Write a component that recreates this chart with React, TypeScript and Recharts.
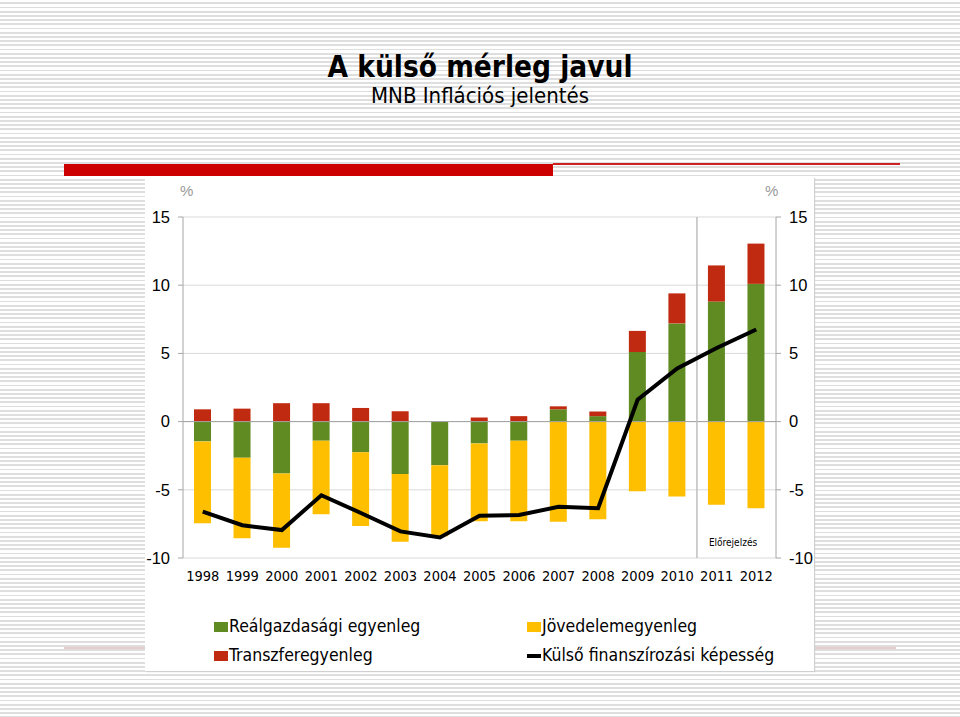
import React from "react";
import {
  ComposedChart,
  Bar,
  Line,
  XAxis,
  YAxis,
  CartesianGrid,
  ReferenceLine,
} from "recharts";

const years = ["1998", "1999", "2000", "2001", "2002", "2003", "2004", "2005", "2006", "2007", "2008", "2009", "2010", "2011", "2012"];
const realBalance = [-1.45, -2.65, -3.8, -1.4, -2.25, -3.85, -3.2, -1.6, -1.4, 0.9, 0.4, 5.1, 7.2, 8.8, 10.1];
const incomeBalance = [-6.0, -5.9, -5.45, -5.4, -5.4, -4.95, -5.2, -5.7, -5.9, -7.35, -7.15, -5.1, -5.5, -6.1, -6.35];
const transferBalance = [0.9, 0.95, 1.35, 1.35, 1.0, 0.75, 0.0, 0.3, 0.4, 0.22, 0.34, 1.55, 2.2, 2.65, 2.95];
const financing = [-6.6, -7.6, -7.95, -5.4, -6.7, -8.05, -8.5, -6.9, -6.85, -6.25, -6.35, 1.6, 3.9, 5.4, 6.75];
const yTicks = [-10, -5, 0, 5, 10, 15];

const data = years.map((year, i) => ({
  year,
  real: realBalance[i],
  income: incomeBalance[i],
  transfer: transferBalance[i],
  financing: financing[i],
}));

const GREEN = "#5f8b22";
const YELLOW = "#fdbf00";
const RED = "#c02a10";
const COND = "'DejaVu Sans Condensed', 'DejaVu Sans', sans-serif";

const legendText: React.CSSProperties = {
  position: "absolute",
  fontFamily: COND,
  fontSize: 17.5,
  color: "#000",
  lineHeight: "22px",
  whiteSpace: "nowrap",
};

export default function App() {
  return (
    <div
      style={{
        position: "absolute",
        left: 0,
        top: 0,
        width: 960,
        height: 717,
        overflow: "hidden",
        background:
          "repeating-linear-gradient(to bottom, #ffffff 0px, #ffffff 2.4px, #dedede 2.4px, #dedede 4.2px)",
      }}
    >
      <div
        style={{
          position: "absolute",
          left: 0,
          width: 960,
          top: 49,
          textAlign: "center",
          fontFamily: COND,
          fontWeight: "bold",
          fontSize: 29.5,
          lineHeight: "36px",
          color: "#000",
        }}
      >
        A külső mérleg javul
      </div>
      <div
        style={{
          position: "absolute",
          left: 0,
          width: 960,
          top: 82,
          textAlign: "center",
          fontFamily: COND,
          fontSize: 22,
          lineHeight: "28px",
          color: "#000",
        }}
      >
        MNB Inflációs jelentés
      </div>

      {/* red header bar */}
      <div style={{ position: "absolute", left: 64, top: 164, width: 489, height: 12, background: "#cc0000" }} />
      <div style={{ position: "absolute", left: 553, top: 163, width: 347, height: 1.5, background: "#cc2222" }} />
      <div style={{ position: "absolute", left: 64, top: 647, width: 832, height: 2, background: "#e6cccc" }} />

      {/* chart panel */}
      <div
        style={{
          position: "absolute",
          left: 145,
          top: 177,
          width: 669,
          height: 494,
          background: "#fff",
          boxShadow: "1px 1px 1px #d0d0d0",
        }}
      >
        <span style={{ position: "absolute", left: 35, top: 5, fontFamily: "'Liberation Sans', Arial, sans-serif", fontSize: 15, color: "#999" }}>%</span>
        <span style={{ position: "absolute", left: 620, top: 5, fontFamily: "'Liberation Sans', Arial, sans-serif", fontSize: 15, color: "#999" }}>%</span>

        <ComposedChart
          width={669}
          height={420}
          data={data}
          stackOffset="sign"
          barCategoryGap={0}
          margin={{ top: 40, right: 0, bottom: 0, left: 0 }}
        >
          <CartesianGrid vertical={false} stroke="#d9d9d9" yAxisId="left" />
          <XAxis
            dataKey="year"
            interval={0}
            axisLine={false}
            tickLine={false}
            height={39}
            tickMargin={7}
            tick={{ fontFamily: COND, fontSize: 14.5, fill: "#000" }}
          />
          <YAxis
            yAxisId="left"
            domain={[-10, 15]}
            ticks={yTicks}
            width={38}
            stroke="#a6a6a6"
            tickSize={5}
            tickMargin={8}
            tick={{ fontFamily: "'Liberation Sans', Arial, sans-serif", fontSize: 16.5, fill: "#000" }}
          />
          <YAxis
            yAxisId="right"
            orientation="right"
            domain={[-10, 15]}
            ticks={yTicks}
            width={38}
            stroke="#a6a6a6"
            tickSize={5}
            tickMargin={8}
            tick={{ fontFamily: "'Liberation Sans', Arial, sans-serif", fontSize: 16.5, fill: "#000" }}
          />
          <ReferenceLine yAxisId="left" y={0} stroke="#a0a0a0" strokeWidth={1} />
          <ReferenceLine
            yAxisId="left"
            x="2011"
            position="start"
            stroke="#bfbfbf"
            strokeWidth={1.5}
            label={{
              value: "Előrejelzés",
              position: "insideBottomLeft",
              offset: 12,
              fontFamily: COND,
              fontSize: 10,
              fill: "#000",
            }}
          />
          <Bar yAxisId="left" dataKey="real" stackId="s" fill={GREEN} barSize={17} isAnimationActive={false} />
          <Bar yAxisId="left" dataKey="income" stackId="s" fill={YELLOW} barSize={17} isAnimationActive={false} />
          <Bar yAxisId="left" dataKey="transfer" stackId="s" fill={RED} barSize={17} isAnimationActive={false} />
          <Line
            yAxisId="right"
            dataKey="financing"
            type="linear"
            stroke="#000"
            strokeWidth={4}
            dot={false}
            isAnimationActive={false}
          />
        </ComposedChart>

        {/* legend */}
        <div style={{ position: "absolute", left: 69, top: 445, width: 14, height: 10, background: GREEN }} />
        <div style={{ ...legendText, left: 84, top: 438 }}>Reálgazdasági egyenleg</div>
        <div style={{ position: "absolute", left: 382, top: 445, width: 14, height: 10, background: YELLOW }} />
        <div style={{ ...legendText, left: 397, top: 438 }}>Jövedelemegyenleg</div>
        <div style={{ position: "absolute", left: 69, top: 474, width: 14, height: 10, background: RED }} />
        <div style={{ ...legendText, left: 84, top: 467 }}>Transzferegyenleg</div>
        <div style={{ position: "absolute", left: 382, top: 477, width: 14, height: 4, background: "#000" }} />
        <div style={{ ...legendText, left: 397, top: 467 }}>Külső finanszírozási képesség</div>
      </div>
    </div>
  );
}
